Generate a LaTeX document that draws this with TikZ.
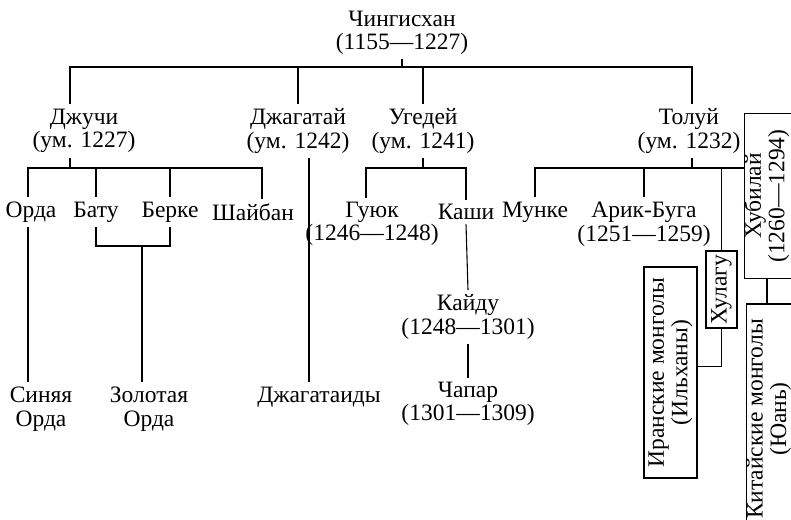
\documentclass[tikz,border=0pt]{standalone}
\usepackage{fontspec}
\setmainfont{Liberation Serif}
\usetikzlibrary{positioning}

\begin{document}
\begin{tikzpicture}[%
    x = 1pt,
    y = -1pt,
    line width = 1.1pt,
    every node/.style = {%
      font = \fontsize{23.5}{23.5}\selectfont,
      align = center,
      inner xsep = 2pt,
      inner ysep = 4pt },
    vbox/.style = {%
      draw,
      rotate = 90,
      inner sep = 0pt }
  ]

\clip (0,0) rectangle (791,519);

% sons
\node (chingis) at (402,33) {Чингисхан\\(1155—1227)};
\node (djuchi) at (84,131) {Джучи\\(ум. 1227)};
\node (djagatai) at (298,131) {Джагатай\\(ум. 1242)};
\node (ugedei) at (423,131) {Угедей\\(ум. 1241)};
\node (tolui) at (689,131) {Толуй\\(ум. 1232)};

% grandsons
\node (orda) at (31,212) {Орда};
\node (batu) at (96,212) {Бату};
\node (berke) at (170,212) {Берке};
\node (shaiban) at (253,212) {Шайбан};
\node (guyuk) at (372,224) {Гуюк\\(1246—1248)};
\node (kashi) at (466,212) {Каши};
\node (munke) at (535,212) {Мунке};
\node (arik) at (644,224) {Арик-Буга\\(1251—1259)};

\node (kaidu) at (468,317) {Кайду\\(1248—1301)};
\node (chapar) at (468,404) {Чапар\\(1301—1309)};
\node (sinyaya) at (41,409) {Синяя\\Орда};
\node (zolotaya) at (149,409) {Золотая\\Орда};
\node (djagataidy) at (319,397) {Джагатаиды};

% boxes (right side runs off the page)
\node[vbox, minimum width=165pt, text depth=15.5pt] (hubilai) at (772,196) {Хубилай\\(1260—1294)};
\node[vbox, minimum width=77pt, minimum height=31pt] (hulagu) at (721.5,289.5) {Хулагу};
\node[vbox, minimum width=211pt, minimum height=53pt] (iran) at (670.5,372.5) {Иранские монголы\\(Ильханы)};
\node[vbox, minimum width=230pt, text depth=19.5pt] (kitai) at (776,419) {Китайские монголы\\(Юань)};

\coordinate (busC) at (402,67);
\coordinate (busD) at (70,168);
\coordinate (busU) at (423,168);
\coordinate (busT) at (692,168);
\coordinate (busB) at (142,246);

\draw (chingis.south) -- (busC);
\draw ([xshift=-14pt]djuchi.north) |- (busC) -| ([xshift=3pt]tolui.north);
\draw (djagatai.north) -- (djagatai.north |- busC);
\draw (ugedei.north) -- (ugedei.north |- busC);

\draw ([xshift=-14pt]djuchi.south) -- (busD);
\draw ([xshift=-3pt]orda.north) |- (busD) -| ([xshift=9pt]shaiban.north);
\draw (batu.north) -- (batu.north |- busD);
\draw (berke.north) -- (berke.north |- busD);
\draw ([xshift=-3pt]orda.south) -- ([xshift=-3pt]orda.south |- sinyaya.north);
\draw (batu.south) |- (busB) -| (berke.south);
\draw (busB) -- ([xshift=-7pt]zolotaya.north);

\draw ([xshift=11pt]djagatai.south) -- ([xshift=11pt]djagatai.south |- djagataidy.north);

\draw (ugedei.south) -- (busU);
\draw ([xshift=-6pt]guyuk.north) |- (busU) -| (kashi.north);
\draw (kashi.south) -- (kaidu.north);
\draw (kaidu.south) -- (chapar.north);

\draw ([xshift=3pt]tolui.south) -- (busT);
\draw (munke.north) |- (busT) -- (busT -| hubilai.north);
\draw (arik.north) -- (arik.north |- busT);
\draw (hulagu.east) -- (hulagu.east |- busT);
\draw (hulagu.west) |- ([yshift=6pt]iran.south);
\draw ([xshift=-5pt]hubilai.west) -- ([xshift=-5pt]hubilai.west |- kitai.east);

\end{tikzpicture}
\end{document}
